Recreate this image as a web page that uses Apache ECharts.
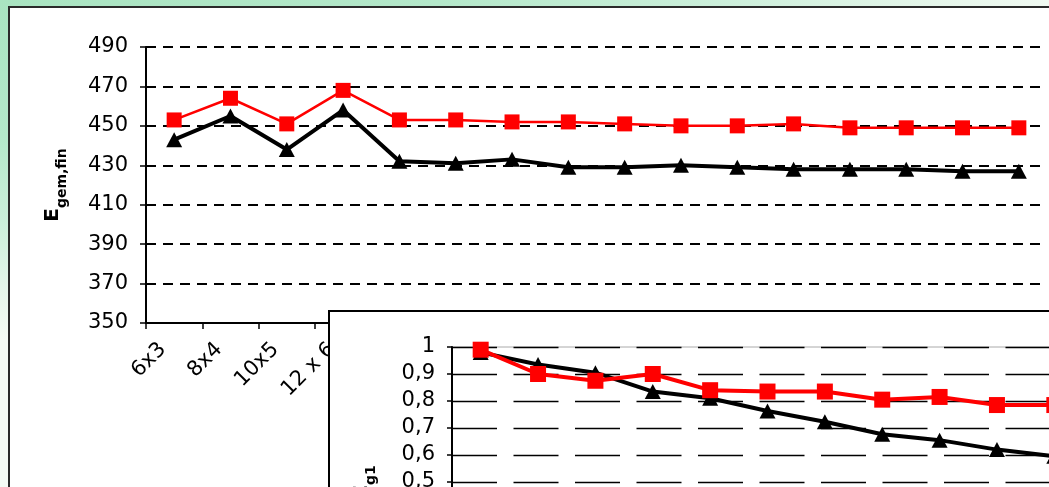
<!DOCTYPE html>
<html><head><meta charset="utf-8">
<script src="https://cdn.jsdelivr.net/npm/echarts@6/dist/echarts.min.js"></script>
<style>
html{background:#f5fbf5;}
html,body{margin:0;padding:0;width:1049px;height:487px;overflow:hidden;}
body{position:relative;}
#bg{position:absolute;left:0;top:0;width:1049px;height:487px;background:radial-gradient(ellipse 1100px 340px at 0 0,#a9e4c1 0%,#b4e8ca 40%,#cbefda 65%,#e5f6ea 85%,#f5fbf5 100%) no-repeat,#f5fbf5;}
#mainBox{position:absolute;left:8px;top:6px;width:1100px;height:520px;border:2px solid #2a2a2a;background:#fff;}
#insetBox{position:absolute;left:328px;top:310px;width:800px;height:340px;border:2px solid #000;background:#fff;}
#main,#inset{width:100%;height:100%;}
</style></head>
<body>
<div id="bg"></div>
<div id="mainBox"><div id="main"></div></div>
<div id="insetBox"><div id="inset"></div></div>
<script>
// Main chart data
const mainCategories = ['6x3','8x4','10x5','12 x 6','14x7','16x8','18x9','20x10','22x11','24x12','26x13','28x14','30x15','32x16','34x17','36x18'];
const mainRed   = [453, 464, 451, 468, 453, 453, 452, 452, 451, 450, 450, 451, 449, 449, 449, 449];
const mainBlack = [443, 455, 438, 458, 432, 431, 433, 429, 429, 430, 429, 428, 428, 428, 427, 427];
const mainTicks = {min: 350, max: 490, interval: 20};

// Inset chart data
const insetCategories = ['1','2','3','4','5','6','7','8','9','10','11'];
const insetRed   = [0.99, 0.90, 0.875, 0.90, 0.84, 0.835, 0.835, 0.805, 0.815, 0.785, 0.785];
const insetBlack = [0.98, 0.935, 0.905, 0.835, 0.81, 0.763, 0.723, 0.677, 0.655, 0.62, 0.595];
const insetTicks = {min: 0, max: 1, interval: 0.1};

const FONT = '"DejaVu Sans", sans-serif';

function nameStyle(){
  return {fontFamily:FONT, color:'#000', rich:{
    e:{fontSize:20, fontWeight:'bold', fontFamily:FONT, color:'#000', verticalAlign:'bottom', padding:[0,0,6,0]},
    s:{fontSize:14, fontWeight:'bold', fontFamily:FONT, color:'#000', verticalAlign:'bottom'}}};
}

const main = echarts.init(document.getElementById('main'), null, {renderer:'canvas'});
main.setOption({
  animation:false,
  grid:{left:136, top:39, width:901, height:276, containLabel:false},
  xAxis:{type:'category', data:mainCategories, boundaryGap:true,
    axisLine:{lineStyle:{color:'#000', width:2}},
    axisTick:{show:true, alignWithLabel:false, length:6, lineStyle:{color:'#000', width:1.5}},
    axisLabel:{rotate:45, margin:12, padding:[0,16,0,0], color:'#000', fontSize:21, fontFamily:FONT, interval:0},
    splitLine:{show:false}},
  yAxis:{type:'value', min:mainTicks.min, max:mainTicks.max, interval:mainTicks.interval,
    name:'{e|E}{s|gem,fin}', nameLocation:'middle', nameGap:77,
    nameTextStyle:nameStyle(),
    axisLine:{show:true, lineStyle:{color:'#000', width:2}},
    axisTick:{show:true, length:6, lineStyle:{color:'#000', width:1.5}},
    axisLabel:{margin:18, color:'#000', fontSize:21, fontFamily:FONT},
    splitLine:{show:true, lineStyle:{color:'#000', width:2, type:[10,7]}}},
  series:[
    {type:'line', data:mainBlack, symbol:'triangle', symbolSize:[16,15],
      lineStyle:{color:'#000', width:4}, itemStyle:{color:'#000'}, z:2},
    {type:'line', data:mainRed, symbol:'rect', symbolSize:[15,15],
      lineStyle:{color:'#ff0000', width:2.5}, itemStyle:{color:'#ff0000'}, z:3}
  ]
});

const inset = echarts.init(document.getElementById('inset'), null, {renderer:'canvas'});
inset.setOption({
  animation:false,
  grid:{left:122, top:35, width:631, height:270, containLabel:false, show:true, borderColor:'#aaa', borderWidth:1},
  xAxis:{type:'category', data:insetCategories, boundaryGap:true,
    axisLine:{lineStyle:{color:'#000', width:2}},
    axisTick:{show:true, length:5, lineStyle:{color:'#000'}},
    axisLabel:{color:'#000', fontSize:21, fontFamily:FONT},
    splitLine:{show:false}},
  yAxis:{type:'value', min:insetTicks.min, max:insetTicks.max, interval:insetTicks.interval,
    name:'{e|E}{s|g1}', nameLocation:'middle', nameGap:74,
    nameTextStyle:nameStyle(),
    axisLine:{show:true, lineStyle:{color:'#000', width:2}},
    axisTick:{show:true, length:5, lineStyle:{color:'#000', width:1.5}},
    axisLabel:{margin:17, color:'#000', fontSize:21, fontFamily:FONT,
      formatter:function(v){return String(Math.round(v*10)/10).replace('.',',');}},
    splitLine:{show:true, lineStyle:{color:'#000', width:1.3, type:[45,16.5]}}},
  series:[
    {type:'line', data:insetBlack, symbol:'triangle', symbolSize:[16,15],
      lineStyle:{color:'#000', width:4}, itemStyle:{color:'#000'}, z:2},
    {type:'line', data:insetRed, symbol:'rect', symbolSize:[16,16],
      lineStyle:{color:'#ff0000', width:4}, itemStyle:{color:'#ff0000'}, z:3}
  ]
});
</script>
</body></html>
